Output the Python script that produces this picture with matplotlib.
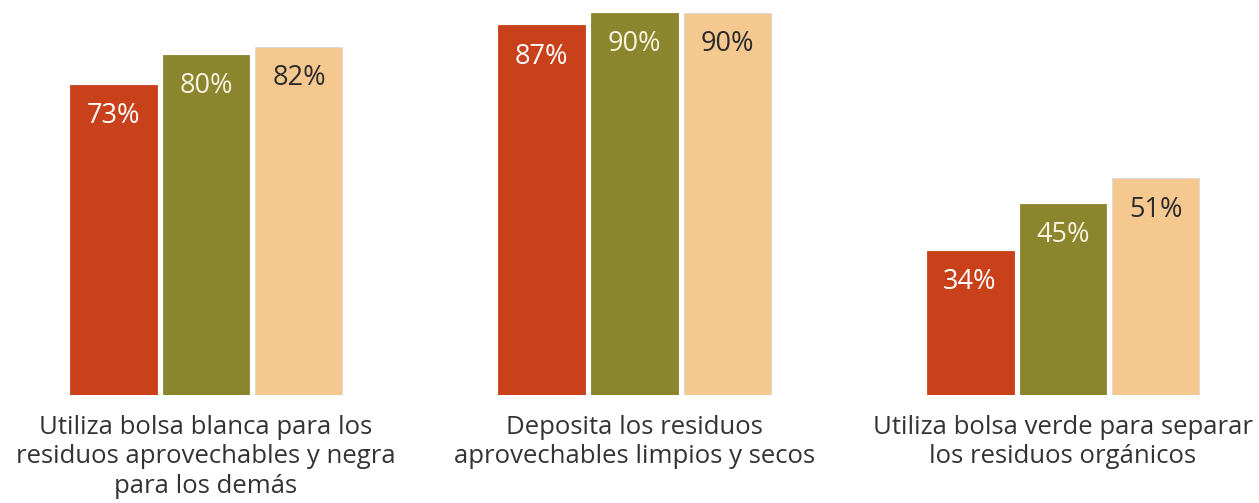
import numpy as np
from matplotlib import pyplot as plt

categories = [
    "Utiliza bolsa blanca para los\nresiduos aprovechables y negra\npara los demás",
    "Deposita los residuos\naprovechables limpios y secos",
    "Utiliza bolsa verde para separar\nlos residuos orgánicos",
]
serie1 = [73, 87, 34]
serie2 = [80, 90, 45]
serie3 = [82, 90, 51]
colors = ["#C8411A", "#8B862D", "#F5C890"]
text_colors = ["white", "#F7F3E0", "#2B2B2B"]

plt.rcParams["font.family"] = ["Open Sans", "DejaVu Sans"]

fig = plt.figure(figsize=(12.59, 5.03), dpi=100)
ax = fig.add_axes([0, 108 / 503, 1, 395 / 503])

x = np.arange(len(categories))
width = 0.203
step = 0.217

for i, (vals, c, tc) in enumerate(zip([serie1, serie2, serie3], colors, text_colors)):
    pos = x + (i - 1) * step
    ax.bar(pos, vals, width, color=c, edgecolor="#D8D8D8" if i == 2 else c, linewidth=0.6)
    for p, v in zip(pos, vals):
        ax.text(p, v - 7.4, f"{v}%", ha="center", va="center", fontsize=19.5,
                color=tc, fontweight="medium" if i < 2 else "normal")

for xi, lab in zip(x, categories):
    ax.text(xi, -4.6, lab, ha="center", va="top", fontsize=18.5, color="#333333",
            linespacing=1.24)

ax.set_xlim(-206 / 428.5, (1259 - 206) / 428.5)
ax.set_ylim(0, 395 / 4.25)
ax.axis("off")

plt.savefig("out.png", dpi=100)
